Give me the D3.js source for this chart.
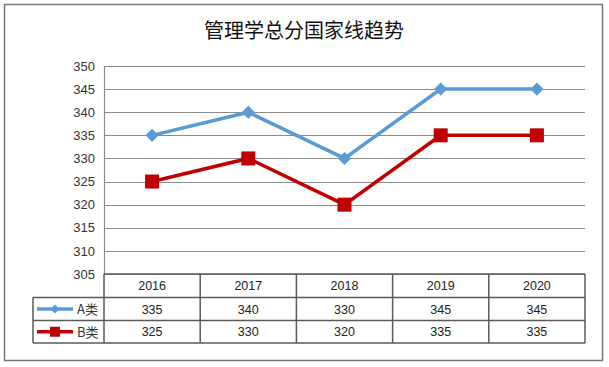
<!DOCTYPE html>
<html><head><meta charset="utf-8">
<script src="https://cdn.jsdelivr.net/npm/d3@7"></script>
<style>body{margin:0;background:#fff}</style>
</head><body>
<script>
const title = "管理学总分国家线趋势";
const years = ["2016","2017","2018","2019","2020"];
const seriesNames = ["A类","B类"];
const seriesA = [335,340,330,345,345];
const seriesB = [325,330,320,335,335];
const yTicks = [305,310,315,320,325,330,335,340,345,350];
const colors = ["#5B9BD5","#C00000"];

(function(){
const W=609,H=367;
const svg=d3.select("body").append("svg").attr("width",W).attr("height",H);
svg.append("rect").attr("x",4.5).attr("y",4.5).attr("width",598).attr("height",356)
  .attr("fill","#fff").attr("stroke","#767676").attr("stroke-width",1.5);
svg.append("text").attr("x",304).attr("y",38).attr("text-anchor","middle")
  .attr("font-family","'Noto Sans CJK SC'").attr("font-size",20).attr("fill","#111").text(title);

const pL=104,pR=585,pT=66,pB=274;
const x=d3.scaleBand().domain(years).range([pL,pR]);
const y=d3.scaleLinear().domain([305,350]).range([pB,pT]);
const font="'Liberation Sans', Arial, sans-serif";

svg.append("g").selectAll("line").data(yTicks).join("line")
  .attr("x1",pL).attr("x2",pR).attr("y1",d=>Math.round(y(d))+0.5).attr("y2",d=>Math.round(y(d))+0.5)
  .attr("stroke","#8c8c8c").attr("stroke-width",1.2);
svg.append("line").attr("x1",pL+0.5).attr("x2",pL+0.5).attr("y1",pT).attr("y2",pB)
  .attr("stroke","#8c8c8c").attr("stroke-width",1.2);
const yAxis=d3.axisLeft(y).tickValues(yTicks).tickSize(0).tickPadding(9);
const ga=svg.append("g").attr("transform",`translate(${pL},0)`).call(yAxis);
ga.select(".domain").remove();
ga.selectAll("text").attr("font-family",font).attr("font-size",13).attr("fill","#333");

const data=[seriesA,seriesB];
const line=d3.line().x((d,i)=>x(years[i])+x.bandwidth()/2).y(d=>y(d));
data.forEach((s,k)=>{
  svg.append("path").datum(s).attr("d",line).attr("fill","none").attr("stroke",colors[k]).attr("stroke-width",3.5);
});
svg.append("g").selectAll("path").data(seriesA).join("path")
  .attr("transform",(d,i)=>`translate(${x(years[i])+x.bandwidth()/2},${y(d)})`)
  .attr("d",d3.symbol().type(d3.symbolDiamond2).size(110)).attr("fill",colors[0]);
svg.append("g").selectAll("rect").data(seriesB).join("rect")
  .attr("x",(d,i)=>x(years[i])+x.bandwidth()/2-7).attr("y",d=>y(d)-7)
  .attr("width",14).attr("height",14).attr("fill",colors[1]);

const rowTop=[274,297.5,320.5,343];
const tcol="#5a5a5a";
const tg=svg.append("g").attr("stroke",tcol).attr("stroke-width",1.5);
const tLeft=33;
tg.append("line").attr("x1",pL).attr("x2",pR).attr("y1",rowTop[0]).attr("y2",rowTop[0]);
[1,2,3].forEach(r=>tg.append("line").attr("x1",tLeft).attr("x2",pR).attr("y1",rowTop[r]).attr("y2",rowTop[r]));
const edges=years.map(d=>x(d)).concat([pR]);
edges.forEach(e=>tg.append("line").attr("x1",e).attr("x2",e).attr("y1",rowTop[0]).attr("y2",rowTop[3]));
tg.append("line").attr("x1",tLeft).attr("x2",tLeft).attr("y1",rowTop[1]).attr("y2",rowTop[3]);

const tf=svg.append("g").attr("font-family",font).attr("font-size",12.5).attr("fill","#222").attr("text-anchor","middle");
years.forEach(yr=>tf.append("text").attr("x",x(yr)+x.bandwidth()/2).attr("y",(rowTop[0]+rowTop[1])/2+4.5).text(yr));
data.forEach((s,k)=>{
  s.forEach((v,i)=>tf.append("text").attr("x",x(years[i])+x.bandwidth()/2).attr("y",(rowTop[k+1]+rowTop[k+2])/2+4.5).text(v));
  const cy=(rowTop[k+1]+rowTop[k+2])/2;
  svg.append("line").attr("x1",37).attr("x2",73).attr("y1",cy).attr("y2",cy).attr("stroke",colors[k]).attr("stroke-width",3.5);
  if(k===0) svg.append("path").attr("transform",`translate(55,${cy})`).attr("d",d3.symbol().type(d3.symbolDiamond2).size(50)).attr("fill",colors[0]);
  else svg.append("rect").attr("x",50).attr("y",cy-5).attr("width",10).attr("height",10).attr("fill",colors[1]);
  svg.append("text").attr("x",77).attr("y",cy+5).attr("font-family","'Noto Sans CJK SC'").attr("font-size",13).attr("fill","#333").text(seriesNames[k]);
});
})();
</script>
</body></html>
